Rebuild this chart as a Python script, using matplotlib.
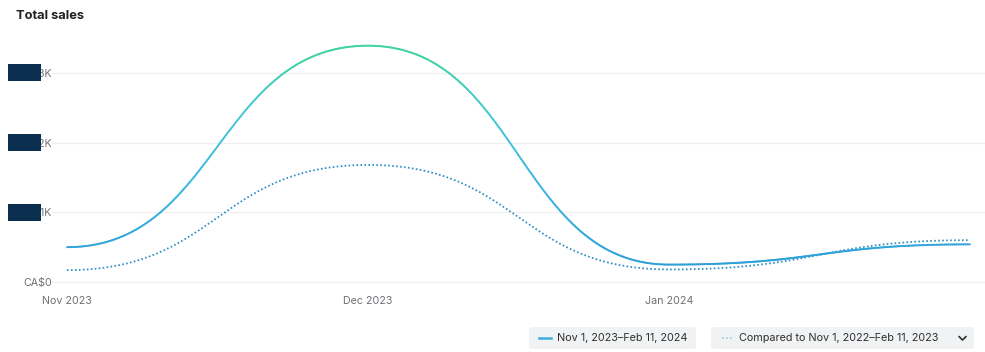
"""Total sales line chart: current period vs. comparison period."""
import numpy as np
import matplotlib
matplotlib.use("Agg")
import matplotlib.pyplot as plt
from matplotlib.collections import LineCollection
from matplotlib.colors import LinearSegmentedColormap
from matplotlib.patches import FancyBboxPatch, Rectangle
from matplotlib.lines import Line2D

# data (thousands of CA$), one point per month
months = ["Nov 2023", "Dec 2023", "Jan 2024", "Feb 2024"]
current = [0.50, 3.39, 0.25, 0.54]
previous = [0.17, 1.68, 0.18, 0.60]
y_ticks = [0, 1, 2, 3]
y_labels = ["CA$0", "CA$1K", "CA$2K", "CA$3K"]
x_labels = ["Nov 2023", "Dec 2023", "Jan 2024"]
legend_current = "Nov 1, 2023\u2013Feb 11, 2024"
legend_previous = "Compared to Nov 1, 2022\u2013Feb 11, 2023"

W, H = 985, 352
TEXT = "#202223"
SUB = "#6d7175"
GRID = "#efefef"
DOT = "#2b8fc6"
plt.rcParams["font.family"] = ["Inter", "DejaVu Sans"]


def fx(px):
    return px / W


def fy(py):
    return 1 - py / H


def bump_x(xs, ys, n=80):
    """Bezier with horizontal tangents at every point (like d3 curveBumpX)."""
    out_x, out_y = [xs[0]], [ys[0]]
    t = np.linspace(0, 1, n)[1:]
    for i in range(len(xs) - 1):
        x0, x1, y0, y1 = xs[i], xs[i + 1], ys[i], ys[i + 1]
        xm = (x0 + x1) / 2
        bx = (1 - t) ** 3 * x0 + 3 * (1 - t) ** 2 * t * xm + 3 * (1 - t) * t ** 2 * xm + t ** 3 * x1
        by = (1 - t) ** 3 * y0 + 3 * (1 - t) ** 2 * t * y0 + 3 * (1 - t) * t ** 2 * y1 + t ** 3 * y1
        out_x.extend(bx)
        out_y.extend(by)
    return np.array(out_x), np.array(out_y)


fig = plt.figure(figsize=(W / 100, H / 100), dpi=100)
ax = fig.add_axes([fx(52), fy(290), fx(985 - 52), (290 - 30) / H])

ppk = 69.7  # pixels per 1K
ax.set_xlim(-15 / 301, 3 + 15 / 301)
ax.set_ylim(-8 / ppk, (282 - 30) / ppk)

x = np.arange(len(months))

# comparison period, dotted
px_, py_ = bump_x(x, previous)
ax.plot(px_, py_, color=DOT, lw=1.3, linestyle=(0, (0.9, 1.3)), zorder=3)

# current period, gradient blue -> green with height
cx, cy = bump_x(x, current, n=200)
pts = np.column_stack([cx, cy]).reshape(-1, 1, 2)
segs = np.concatenate([pts[:-1], pts[1:]], axis=1)
cmap = LinearSegmentedColormap.from_list(
    "sales", ["#2c9ed6", "#3fb6e2", "#48c9d8", "#3fd49c"])
lc = LineCollection(segs, cmap=cmap, norm=plt.Normalize(0.2, 3.4),
                    linewidths=1.35, capstyle="round", zorder=4)
lc.set_array((cy[:-1] + cy[1:]) / 2)
ax.add_collection(lc)

# axes styling
for s in ax.spines.values():
    s.set_visible(False)
ax.set_yticks(y_ticks)
ax.set_yticklabels(y_labels)
ax.set_xticks(range(len(x_labels)))
ax.set_xticklabels(x_labels)
ax.tick_params(length=0, colors=SUB, labelsize=7.7)
ax.tick_params(axis="y", pad=0)
ax.tick_params(axis="x", pad=4)
ax.grid(axis="y", color=GRID, lw=0.9)
ax.set_axisbelow(True)

# redaction boxes over tick values
for top in (64, 134, 204):
    fig.patches.append(Rectangle((fx(8), fy(top + 17)), fx(33), 17 / H,
                                 transform=fig.transFigure,
                                 facecolor="#0b2f4e", edgecolor="none", zorder=10))

fig.text(fx(16), fy(16), "Total sales", fontsize=9.3, fontweight="bold",
         color=TEXT, va="center", ha="left")

# legend chips
for x0, x1 in ((529, 696), (711, 974)):
    fig.patches.append(FancyBboxPatch((fx(x0), fy(349)), fx(x1 - x0), 22 / H,
                                      boxstyle="round,pad=0,rounding_size=0.004",
                                      transform=fig.transFigure,
                                      facecolor="#f1f2f3", edgecolor="none"))
fig.lines.append(Line2D([fx(539), fx(551)], [fy(338)] * 2, transform=fig.transFigure,
                        color="#3aaede", lw=1.8))
fig.lines.append(Line2D([fx(722), fx(734)], [fy(338)] * 2, transform=fig.transFigure,
                        color="#9fcfe8", lw=1.3, linestyle=(0, (0.9, 1.3))))
fig.text(fx(557), fy(338), legend_current, fontsize=7.8, color="#303030",
         va="center", ha="left")
fig.text(fx(739), fy(338), legend_previous, fontsize=7.8, color="#303030",
         va="center", ha="left")
fig.lines.append(Line2D([fx(959), fx(962.5), fx(966)], [fy(336.5), fy(340), fy(336.5)],
                        transform=fig.transFigure, color="#303030", lw=1.2,
                        solid_capstyle="round", solid_joinstyle="round"))

fig.savefig("out.png", dpi=100)
